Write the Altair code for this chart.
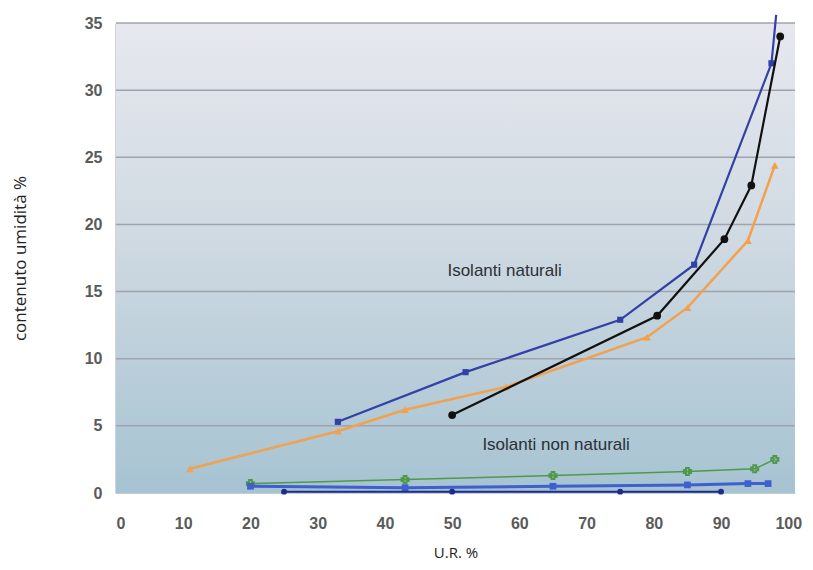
import altair as alt
import pandas as pd

# ---- data ----
# Isolanti naturali
orange_x = [11, 33, 43, 58, 79, 85, 94, 98]
orange_y = [1.8, 4.6, 6.2, 7.9, 11.6, 13.8, 18.8, 24.4]
black_x = [50, 80.5, 90.5, 94.5, 98.8]
black_y = [5.8, 13.2, 18.9, 22.9, 34.0]
blue_x = [33, 52, 75, 86, 97.5, 98.2]
blue_y = [5.3, 9.0, 12.9, 17.0, 32.0, 35.6]
# Isolanti non naturali
green_x = [20, 43, 65, 85, 95, 98]
green_y = [0.7, 1.0, 1.3, 1.6, 1.8, 2.5]
square_x = [20, 43, 65, 85, 94, 97]
square_y = [0.5, 0.4, 0.5, 0.6, 0.7, 0.7]
dot_x = [25, 50, 75, 90]
dot_y = [0.1, 0.1, 0.1, 0.1]

x_ticks = [0, 10, 20, 30, 40, 50, 60, 70, 80, 90, 100]
y_ticks = [0, 5, 10, 15, 20, 25, 30, 35]

labels_text = ["Isolanti naturali", "Isolanti non naturali"]
labels_x = [49.3, 54.5]
labels_y = [16.5, 3.6]

W, H = 679, 470

xenc = alt.X("x:Q", scale=alt.Scale(domain=[0, 101], nice=False, zero=False),
             axis=alt.Axis(values=x_ticks, title="U.R. %", grid=False, ticks=False,
                           labelPadding=22, labelFontSize=16, labelColor="#5a5a5a",
                           labelFont="Liberation Sans", labelFontWeight="bold",
                           domainColor="#c3ced6", domainWidth=1,
                           titleFont="Open Sans", titleFontSize=15, titleFontWeight="normal",
                           titleColor="#222", titleY=59, titleBaseline="middle"))
yenc = alt.Y("y:Q", scale=alt.Scale(domain=[0, 35], nice=False),
             axis=alt.Axis(values=y_ticks, title="contenuto umidità %", grid=False,
                           ticks=False,
                           labelPadding=14, labelFontSize=16, labelColor="#5a5a5a",
                           labelFont="Liberation Sans", labelFontWeight="bold",
                           domainColor="#a3a8b1", domainWidth=2,
                           titleFont="Open Sans", titleFontSize=17, titleFontWeight="normal",
                           titleColor="#222", titleX=-96, titleY=H / 2,
                           titleAngle=-90, titleAlign="center", titleBaseline="middle"))


def df(xs, ys):
    return pd.DataFrame({"x": xs, "y": ys})


def series(xs, ys, color, width, shape, size, filled=True):
    base = alt.Chart(df(xs, ys))
    line = base.mark_line(color=color, strokeWidth=width, clip=False).encode(x=xenc, y=yenc)
    pts = base.transform_filter(alt.datum.y <= 35).mark_point(
        shape=shape, size=size, filled=filled, color=color, opacity=1,
        strokeWidth=2 if not filled else 1).encode(x=xenc, y=yenc)
    return line + pts


grad = alt.Gradient(
    gradient="linear",
    stops=[alt.GradientStop(color="#e7e8ef", offset=0),
           alt.GradientStop(color="#d0dae2", offset=0.45),
           alt.GradientStop(color="#a6c3d2", offset=1)],
    x1=0, x2=0, y1=0, y2=1)

bg = alt.Chart(pd.DataFrame({"a": [0]})).mark_rect(fill=grad).encode(
    x=alt.value(0), x2=alt.value(W), y=alt.value(0), y2=alt.value(H))

grid = alt.Chart(pd.DataFrame({"y": y_ticks[1:]})).mark_rule(
    color="#9ea3ad", strokeWidth=1.5).encode(y=yenc)

layers = [
    series(green_x, green_y, "#4f9a4a", 1.5, "cross", 50, filled=False),
    series(square_x, square_y, "#3f5fcf", 3, "square", 45),
    series(dot_x, dot_y, "#1e2d8c", 2, "circle", 35),
    series(orange_x, orange_y, "#f2a14e", 2.5, "triangle-up", 60),
    series(blue_x, blue_y, "#3341a6", 2.2, "square", 38),
    series(black_x, black_y, "#111111", 2.2, "circle", 60),
]

labels = alt.Chart(pd.DataFrame({"x": labels_x, "y": labels_y, "t": labels_text})).mark_text(
    align="left", baseline="middle", font="Liberation Sans", fontSize=17, color="#2b2f36"
).encode(x=xenc, y=yenc, text="t:N")

chart = alt.layer(bg, grid, *layers, labels).properties(
    width=W, height=H,
    autosize=alt.AutoSizeParams(type="none"),
    padding={"left": 108, "top": 15, "right": 10, "bottom": 69},
    background="white",
).configure_view(strokeWidth=0)

chart.save("out.html", embed_options={"renderer": "svg", "actions": False})
